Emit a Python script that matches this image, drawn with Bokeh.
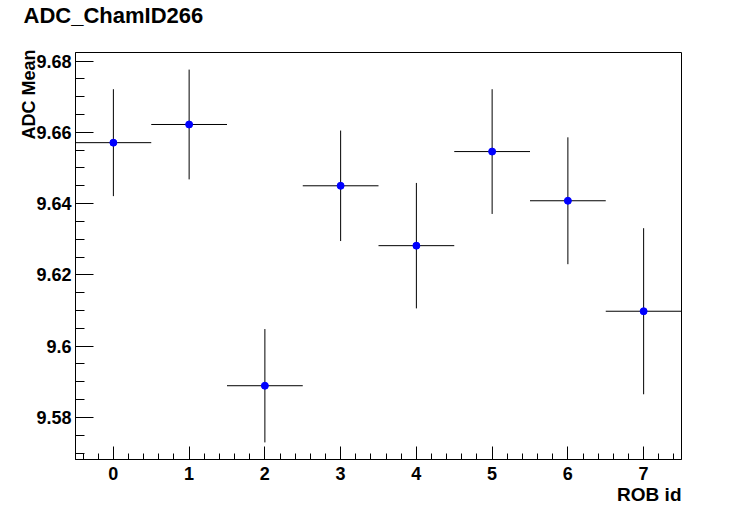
import numpy as np
from bokeh.plotting import figure
from bokeh.models import (Range1d, FixedTicker, CustomJSTickFormatter, Title,
                          ColumnDataSource)
from bokeh.embed import file_html
from bokeh.resources import INLINE

# ---- data ----
rob_id = [0, 1, 2, 3, 4, 5, 6, 7]
adc_mean = [9.6571, 9.6622, 9.5889, 9.6450, 9.6282, 9.6546, 9.6408, 9.6098]
adc_err = [0.0150, 0.0154, 0.0159, 0.0155, 0.0176, 0.0175, 0.0178, 0.0233]
bin_half_width = 0.5

x_tick_values = [0, 1, 2, 3, 4, 5, 6, 7]
x_tick_labels = ["0", "1", "2", "3", "4", "5", "6", "7"]
y_tick_values = [9.58, 9.60, 9.62, 9.64, 9.66, 9.68]
y_tick_labels = ["9.58", "9.6", "9.62", "9.64", "9.66", "9.68"]

title_text = "ADC_ChamID266"
x_title = "ROB id"
y_title = "ADC Mean"

x_lo, x_hi = -0.5, 7.5
y_lo, y_hi = 9.5682, 9.6824

FONT = "Liberation Sans"

src = ColumnDataSource(dict(
    x=rob_id,
    y=adc_mean,
    lo=[m - e for m, e in zip(adc_mean, adc_err)],
    hi=[m + e for m, e in zip(adc_mean, adc_err)],
    xl=[x - bin_half_width for x in rob_id],
    xr=[x + bin_half_width for x in rob_id],
))

p = figure(width=756, height=511,
           x_range=Range1d(x_lo, x_hi), y_range=Range1d(y_lo, y_hi),
           output_backend="svg", toolbar_location=None,
           min_border_left=75, min_border_right=75,
           min_border_top=52, min_border_bottom=52)

p.grid.visible = False
p.outline_line_color = "black"
p.outline_line_width = 1
p.background_fill_color = "white"
p.border_fill_color = "white"

x_minor = [round(v, 3) for v in np.arange(x_lo + 0.1, x_hi, 0.2)]
y_minor = [round(v, 4) for v in np.arange(9.57, y_hi, 0.005)]

p.xaxis.ticker = FixedTicker(ticks=x_tick_values, minor_ticks=x_minor)
p.yaxis.ticker = FixedTicker(ticks=y_tick_values, minor_ticks=y_minor)

fmt_code = """
let best = 0; let bd = 1e9;
for (let i = 0; i < vals.length; i++) {
  const d = Math.abs(vals[i] - tick);
  if (d < bd) { bd = d; best = i; }
}
return labs[best];
"""
p.xaxis.formatter = CustomJSTickFormatter(args=dict(vals=x_tick_values, labs=x_tick_labels), code=fmt_code)
p.yaxis.formatter = CustomJSTickFormatter(args=dict(vals=y_tick_values, labs=y_tick_labels), code=fmt_code)

for ax in (p.xaxis[0], p.yaxis[0]):
    ax.axis_line_color = "black"
    ax.major_tick_line_color = "black"
    ax.minor_tick_line_color = "black"
    ax.major_tick_out = 0
    ax.minor_tick_out = 0
    ax.major_label_text_font = FONT
    ax.major_label_text_font_style = "bold"
    ax.major_label_text_font_size = "18px"
    ax.major_label_text_color = "black"

p.xaxis.major_tick_in = 13
p.xaxis.minor_tick_in = 6
p.xaxis.major_label_standoff = 7
p.yaxis.major_tick_in = 18
p.yaxis.minor_tick_in = 9
p.yaxis.major_label_standoff = 4

# error bars
p.segment(x0="x", y0="lo", x1="x", y1="hi", source=src, line_color="black", line_width=1)
p.segment(x0="xl", y0="y", x1="xr", y1="y", source=src, line_color="black", line_width=1)
p.scatter(x="x", y="y", source=src, size=7, fill_color="#0000ff", line_color="#0000ff")

# titles (spacer panel between frame and main title)
p.add_layout(Title(text=" ", text_font_size="8px", standoff=14), "above")
p.title = Title(text=title_text, align="left", offset=-52, standoff=0,
                text_font=FONT, text_font_style="bold", text_font_size="22px",
                text_color="black")
p.add_layout(Title(text=x_title, align="right", standoff=-2,
                   text_font=FONT, text_font_style="bold", text_font_size="19px",
                   text_color="black"), "below")
p.add_layout(Title(text=y_title, align="right", standoff=-10, offset=-3,
                   text_font=FONT, text_font_style="bold", text_font_size="18px",
                   text_color="black"), "left")

open("out.html", "w").write(file_html(p, INLINE))
